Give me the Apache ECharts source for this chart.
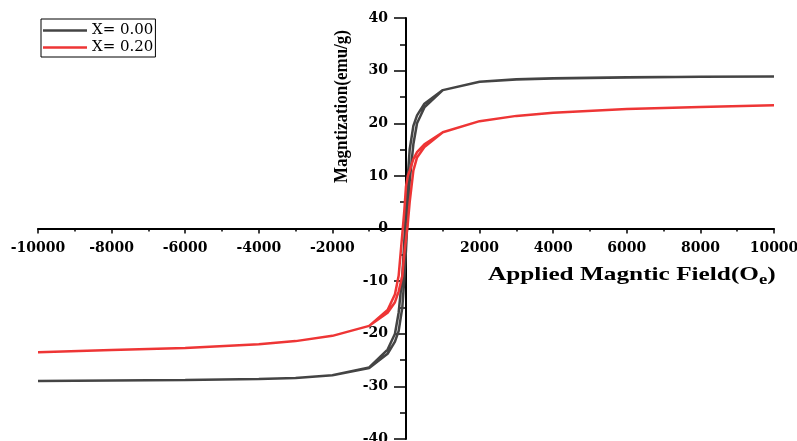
<!DOCTYPE html>
<html><head><meta charset="utf-8">
<script src="https://cdn.jsdelivr.net/npm/echarts@6/dist/echarts.min.js"></script>
<style>html,body{margin:0;padding:0;background:#fff}#c{width:797px;height:441px}</style>
</head><body><div id="c"></div>
<script>
// X = 0.00 hysteresis loop (field in Oe, magnetization in emu/g)
const fieldDown = [10000, 8000, 6000, 4000, 3000, 2000, 1000, 500, 300, 200, 100, 50, 0, -50, -100, -200, -300, -500, -1000, -2000, -3000, -4000, -6000, -8000, -10000];
const fieldUp   = [-10000, -8000, -6000, -4000, -3000, -2000, -1000, -500, -300, -200, -100, -50, 0, 50, 100, 200, 300, 500, 1000, 2000, 3000, 4000, 6000, 8000, 10000];
const m0Down = [28.9, 28.85, 28.75, 28.55, 28.35, 27.9, 26.3, 23.7, 21.5, 19.5, 15, 10, 4, -3, -9, -16, -20, -23, -26.4, -27.9, -28.4, -28.6, -28.8, -28.9, -29.0];
const m0Up   = [-29.0, -28.9, -28.8, -28.6, -28.4, -27.9, -26.5, -23.8, -21.5, -19.5, -15, -10, -4, 3, 9, 16, 20, 23, 26.3, 27.9, 28.3, 28.5, 28.7, 28.85, 28.9];
// X = 0.20 hysteresis loop
const m2Down = [23.4, 23.1, 22.7, 22.0, 21.4, 20.4, 18.3, 16.0, 14.5, 13.2, 11, 10, 8, 3, -1, -9, -12.5, -15.5, -18.5, -20.4, -21.4, -22.0, -22.7, -23.1, -23.5];
const m2Up   = [-23.5, -23.1, -22.7, -22.0, -21.4, -20.4, -18.5, -16, -14, -12, -9, -5, -2, 1, 5, 11, 13.5, 15.5, 18.3, 20.4, 21.4, 22.0, 22.7, 23.1, 23.4];
const seriesNames = ['X= 0.00', 'X= 0.20'];
const xTicks = [-10000, -8000, -6000, -4000, -2000, 2000, 4000, 6000, 8000, 10000];
const yTicks = [-40, -30, -20, -10, 0, 10, 20, 30, 40];

function loop(down, up) {
  const pts = [];
  fieldDown.forEach((h, i) => pts.push([h, down[i]]));
  fieldUp.forEach((h, i) => pts.push([h, up[i]]));
  return pts;
}
const serif = 'Liberation Serif';
const wide = 'DejaVu Serif';
const G = {left: 38, right: 23, top: 18, bottom: 2};
const W = 797, H = 441;
const zeroX = G.left + (W - G.left - G.right) / 2;
const zeroY = G.top + (H - G.top - G.bottom) / 2;
const chart = echarts.init(document.getElementById('c'));
chart.setOption({
  animation: false,
  backgroundColor: '#fff',
  grid: Object.assign({containLabel: false, outerBoundsMode: 'none'}, G),
  legend: {
    left: 41, top: 19, orient: 'vertical', itemWidth: 44, itemHeight: 2.5, itemGap: 2,
    icon: 'rect',
    padding: [4, 2, 2, 2], borderColor: '#000', borderWidth: 1, borderRadius: 0,
    textStyle: {fontFamily: wide, fontSize: 15, color: '#000'},
    data: seriesNames
  },
  xAxis: {
    type: 'value', min: -10000, max: 10000, interval: 2000, position: 'bottom',
    offset: -(H - G.bottom - zeroY),
    axisLine: {onZero: false, lineStyle: {color: '#000', width: 2}},
    axisTick: {length: 5, lineStyle: {color: '#000', width: 1.5}},
    minorTick: {show: true, splitNumber: 2, length: 3, lineStyle: {color: '#000', width: 1.5}},
    splitLine: {show: false},
    axisLabel: {
      fontFamily: wide, fontWeight: 'bold', fontSize: 14, color: '#000', margin: 13,
      formatter: v => xTicks.indexOf(v) < 0 ? '' : String(v)
    }
  },
  yAxis: {
    type: 'value', min: -40, max: 40, interval: 10, position: 'left',
    offset: -(zeroX - G.left),
    axisLine: {onZero: false, lineStyle: {color: '#000', width: 2}},
    axisTick: {length: 12, lineStyle: {color: '#000', width: 1.5}},
    minorTick: {show: true, splitNumber: 2, length: 6, lineStyle: {color: '#000', width: 1.5}},
    splitLine: {show: false},
    axisLabel: {
      fontFamily: wide, fontWeight: 'bold', fontSize: 14, color: '#000', margin: 18,
      formatter: v => yTicks.indexOf(v) < 0 ? '' : String(v)
    }
  },
  graphic: [
    {type: 'text', x: 488, y: 264, scaleX: 1.33,
     style: {text: '{a|Applied Magntic Field(O}{s|e}{a|)}',
       rich: {a: {fontFamily: serif, fontWeight: 'bold', fontSize: 19, fill: '#000'},
              s: {fontFamily: serif, fontWeight: 'bold', fontSize: 14, fill: '#000', padding: [9, 0, 0, 0]}}}},
    {type: 'text', x: 332, y: 183, rotation: Math.PI / 2, scaleY: 1.17,
     style: {text: 'Magntization(emu/g)', fontFamily: serif, fontWeight: 'bold', fontSize: 17, fill: '#000'}}
  ],
  series: [
    {name: seriesNames[0], type: 'line', data: loop(m0Down, m0Up), symbol: 'none', smooth: false,
     lineStyle: {color: '#444444', width: 2.5}, itemStyle: {color: '#444444'}},
    {name: seriesNames[1], type: 'line', data: loop(m2Down, m2Up), symbol: 'none', smooth: false,
     lineStyle: {color: '#ee3535', width: 2.5}, itemStyle: {color: '#ee3535'}}
  ]
});
</script></body></html>
